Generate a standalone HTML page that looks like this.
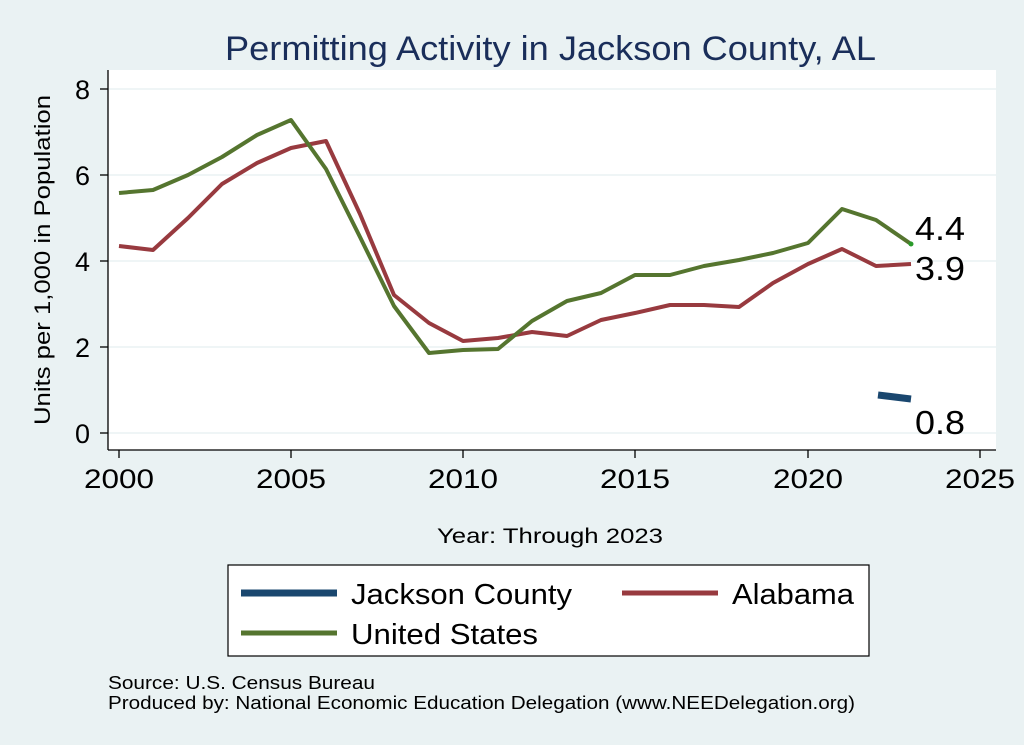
<!DOCTYPE html>
<html><head><style>
body{margin:0;background:#eaf2f3;}
svg{display:block;font-family:"Liberation Sans",Arial,sans-serif;}
</style></head><body>
<svg width="1024" height="745" viewBox="0 0 1024 745">
<rect width="1024" height="745" fill="#eaf2f3"/>
<text x="225" y="60" font-size="34" fill="#1a2e5a" textLength="651" lengthAdjust="spacingAndGlyphs">Permitting Activity in Jackson County, AL</text>
<rect x="108" y="70" width="888" height="380" fill="#fff"/>
<g stroke="#eaf2f3" stroke-width="1.5">
<line x1="108" x2="996" y1="89" y2="89"/><line x1="108" x2="996" y1="175" y2="175"/>
<line x1="108" x2="996" y1="261" y2="261"/><line x1="108" x2="996" y1="347" y2="347"/>
<line x1="108" x2="996" y1="433" y2="433"/>
</g>
<g stroke="#000" stroke-width="1.3">
<line x1="108" y1="70" x2="108" y2="450"/><line x1="108" y1="450" x2="996" y2="450"/>
<line x1="100" x2="108" y1="89" y2="89"/><line x1="100" x2="108" y1="175" y2="175"/>
<line x1="100" x2="108" y1="261" y2="261"/><line x1="100" x2="108" y1="347" y2="347"/>
<line x1="100" x2="108" y1="433" y2="433"/>
<line x1="119" x2="119" y1="450" y2="458"/><line x1="291" x2="291" y1="450" y2="458"/>
<line x1="463" x2="463" y1="450" y2="458"/><line x1="635" x2="635" y1="450" y2="458"/>
<line x1="808" x2="808" y1="450" y2="458"/><line x1="980" x2="980" y1="450" y2="458"/>
</g>
<g font-size="27" text-anchor="end">
<text x="90" y="99">8</text><text x="90" y="185">6</text><text x="90" y="271">4</text><text x="90" y="357">2</text><text x="90" y="443">0</text>
</g>
<g font-size="27" text-anchor="middle">
<text x="119" y="488" textLength="70" lengthAdjust="spacingAndGlyphs">2000</text><text x="291" y="488" textLength="70" lengthAdjust="spacingAndGlyphs">2005</text><text x="463" y="488" textLength="70" lengthAdjust="spacingAndGlyphs">2010</text>
<text x="635" y="488" textLength="70" lengthAdjust="spacingAndGlyphs">2015</text><text x="808" y="488" textLength="70" lengthAdjust="spacingAndGlyphs">2020</text><text x="980" y="488" textLength="70" lengthAdjust="spacingAndGlyphs">2025</text>
</g>
<text transform="translate(50,260) rotate(-90)" font-size="22" text-anchor="middle" textLength="330" lengthAdjust="spacingAndGlyphs">Units per 1,000 in Population</text>
<text x="550" y="543" font-size="21" text-anchor="middle" textLength="226" lengthAdjust="spacingAndGlyphs">Year: Through 2023</text>
<polyline fill="none" stroke="#983a3f" stroke-width="4" stroke-linejoin="round" points="119,246 153,250 188,218 222,184 257,163 291,148 326,141 360,214 394,295 429,323 463,341 498,338 532,332 567,336 601,320 635,313 670,305 704,305 739,307 773,283 808,264 842,249 876,266 911,264"/>
<polyline fill="none" stroke="#55752f" stroke-width="4" stroke-linejoin="round" points="119,193 153,190 188,175 222,157 257,135 291,120 326,169 360,237 394,306 429,353 463,350 498,349 532,321 567,301 601,293 635,275 670,275 704,266 739,260 773,253 808,243 842,209 876,220 911,244"/>
<circle cx="911" cy="244" r="2.5" fill="#2a9a2a"/>
<line x1="878" y1="395" x2="911" y2="399" stroke="#1a476f" stroke-width="7"/>
<g font-size="33">
<text x="915" y="240" textLength="50" lengthAdjust="spacingAndGlyphs">4.4</text><text x="915" y="280" textLength="50" lengthAdjust="spacingAndGlyphs">3.9</text><text x="915" y="434" textLength="50" lengthAdjust="spacingAndGlyphs">0.8</text>
</g>
<rect x="228" y="565" width="641" height="91" fill="#fff" stroke="#000" stroke-width="1.2"/>
<line x1="241" x2="337" y1="593" y2="593" stroke="#1a476f" stroke-width="7"/>
<line x1="622" x2="718" y1="593" y2="593" stroke="#983a3f" stroke-width="5"/>
<line x1="241" x2="337" y1="633" y2="633" stroke="#55752f" stroke-width="5"/>
<g font-size="29">
<text x="351" y="604" textLength="221" lengthAdjust="spacingAndGlyphs">Jackson County</text><text x="732" y="604" textLength="122" lengthAdjust="spacingAndGlyphs">Alabama</text><text x="351" y="644" textLength="187" lengthAdjust="spacingAndGlyphs">United States</text>
</g>
<g font-size="18">
<text x="108" y="689" textLength="267" lengthAdjust="spacingAndGlyphs">Source: U.S. Census Bureau</text>
<text x="108" y="709" textLength="747" lengthAdjust="spacingAndGlyphs">Produced by: National Economic Education Delegation (www.NEEDelegation.org)</text>
</g>
</svg>
</body></html>
